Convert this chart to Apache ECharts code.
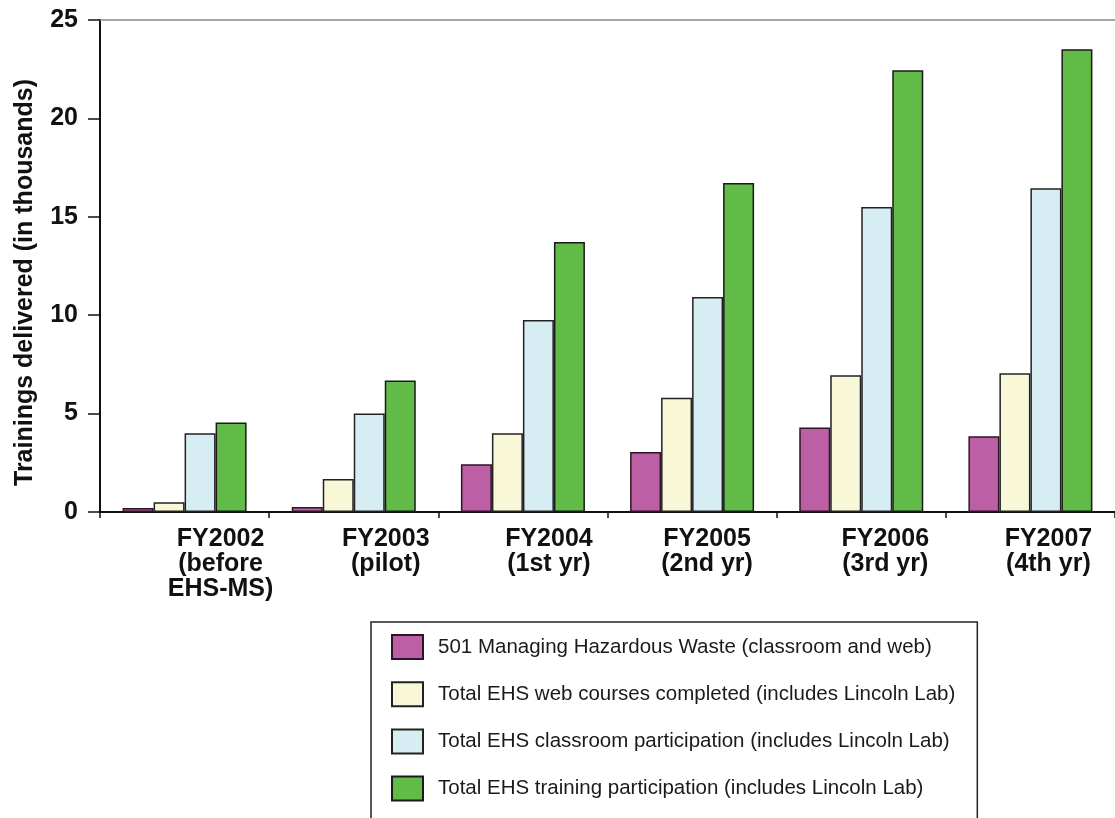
<!DOCTYPE html>
<html>
<head>
<meta charset="utf-8">
<title>EHS Training Delivered</title>
<script src="https://cdn.jsdelivr.net/npm/echarts@6/dist/echarts.min.js"></script>
<style>
  html, body { margin: 0; padding: 0; background: #ffffff; }
  #chart { width: 1115px; height: 818px; }
</style>
</head>
<body>
<div id="chart"></div>
<script>
// Fiscal years (two-line labels) and how far each label sits right of its slot centre
const categories = ['FY2002\n(before\nEHS-MS)', 'FY2003\n(pilot)', 'FY2004\n(1st yr)', 'FY2005\n(2nd yr)', 'FY2006\n(3rd yr)', 'FY2007\n(4th yr)'];
const labelShift = [36, 32, 26, 15, 24, 18];

// Series names
const seriesNames = [
  '501 Managing Hazardous Waste (classroom and web)',
  'Total EHS web courses completed (includes Lincoln Lab)',
  'Total EHS classroom participation (includes Lincoln Lab)',
  'Total EHS training participation (includes Lincoln Lab)'
];

// Trainings delivered, in thousands
const hazardousWaste = [0.2, 0.25, 2.43, 3.05, 4.3, 3.85];
const webCourses = [0.5, 1.68, 4.0, 5.8, 6.95, 7.05];
const classroom = [4.0, 5.0, 9.75, 10.92, 15.5, 16.45];
const totalTraining = [4.55, 6.68, 13.72, 16.72, 22.45, 23.52];

// Y axis ticks
const yMin = 0, yMax = 25, yStep = 5;

const seriesColors = ['#bd5fa5', '#f8f8d8', '#d6eef3', '#61bb46'];
const seriesBorders = ['#2a1624', '#222222', '#222222', '#1a1a1a'];
const seriesData = [hazardousWaste, webCourses, classroom, totalTraining];

const FONT = '"Liberation Sans", Arial, Helvetica, sans-serif';

const chart = echarts.init(document.getElementById('chart'), null, { renderer: 'canvas' });

const catData = categories.map((c, i) => ({
  value: c,
  textStyle: { padding: [0, 0, 0, labelShift[i] * 2] }
}));

chart.setOption({
  animation: false,
  backgroundColor: '#ffffff',
  grid: { left: 100, top: 20, right: -9, bottom: 306, containLabel: false },
  legend: {
    orient: 'vertical',
    left: 371,
    top: 622,
    height: 260,
    icon: 'rect',
    itemWidth: 31,
    itemHeight: 24,
    itemGap: 21.2,
    selectedMode: false,
    borderColor: '#222222',
    borderWidth: 1.5,
    borderRadius: 0,
    padding: [12, 22, 60, 20],
    textStyle: {
      fontFamily: FONT,
      fontSize: 20.5,
      lineHeight: 24,
      color: '#1a1a1a',
      padding: [0, 0, 0, 10]
    },
    data: seriesNames
  },
  xAxis: [
    {
      type: 'category',
      data: catData,
      position: 'bottom',
      axisLine: { show: true, lineStyle: { color: '#111111', width: 2 } },
      axisTick: { show: true, length: 6, lineStyle: { color: '#111111', width: 1.5 } },
      axisLabel: {
        interval: 0,
        margin: 15,
        fontFamily: FONT,
        fontWeight: 'bold',
        fontSize: 25,
        lineHeight: 25,
        color: '#111111',
        align: 'center'
      },
      splitLine: { show: false }
    },
    {
      type: 'category',
      data: categories,
      position: 'top',
      axisLine: { show: true, lineStyle: { color: '#8a8a8a', width: 1.5 } },
      axisTick: { show: false },
      axisLabel: { show: false },
      splitLine: { show: false }
    }
  ],
  yAxis: {
    type: 'value',
    min: yMin,
    max: yMax,
    interval: yStep,
    name: 'Trainings delivered (in thousands)',
    nameLocation: 'middle',
    nameGap: 62,
    nameRotate: 90,
    nameTextStyle: {
      fontFamily: FONT,
      fontWeight: 'bold',
      fontSize: 25,
      color: '#111111',
      padding: [0, 33, 0, 0]
    },
    axisLine: { show: true, lineStyle: { color: '#111111', width: 2 } },
    axisTick: { show: true, length: 12, lineStyle: { color: '#111111', width: 1.5 } },
    axisLabel: {
      margin: 22,
      fontFamily: FONT,
      fontWeight: 'bold',
      fontSize: 25,
      color: '#111111'
    },
    splitLine: { show: false }
  },
  series: seriesNames.map((name, i) => ({
    name: name,
    type: 'bar',
    xAxisIndex: 0,
    barWidth: 31,
    barGap: '0%',
    data: seriesData[i],
    itemStyle: {
      color: seriesColors[i],
      borderColor: seriesBorders[i],
      borderWidth: 1.5
    }
  }))
});
</script>
</body>
</html>
